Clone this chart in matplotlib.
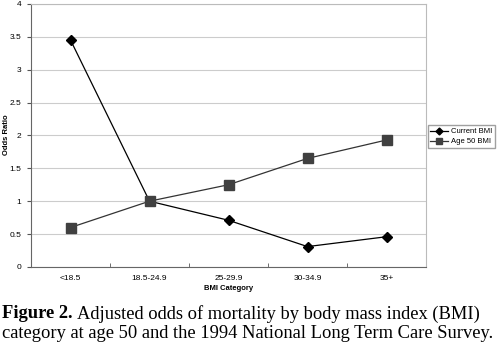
import matplotlib
matplotlib.use("Agg")
from matplotlib import pyplot as plt

categories = ["<18.5", "18.5-24.9", "25-29.9", "30-34.9", "35+"]
current_bmi = [3.45, 1.0, 0.71, 0.31, 0.46]
age50_bmi = [0.6, 1.0, 1.25, 1.65, 1.93]
y_ticks = [0, 0.5, 1, 1.5, 2, 2.5, 3, 3.5, 4]
y_labels = ["0", "0.5", "1", "1.5", "2", "2.5", "3", "3.5", "4"]

fig = plt.figure(figsize=(5, 3.63), dpi=100)
ax = fig.add_axes([0.062, 0.2645, 0.79, 0.725])

x = list(range(len(categories)))
ax.plot(x, current_bmi, color="black", lw=0.9, marker="D", ms=5, mfc="black", mec="black", label="Current BMI")
ax.plot(x, age50_bmi, color="#333333", lw=0.9, marker="s", ms=7, mfc="#404040", mec="#404040", label="Age 50 BMI")

ax.set_xlim(-0.5, 4.5)
ax.set_ylim(0, 4)
ax.set_yticks(y_ticks)
ax.set_yticklabels(y_labels, fontsize=6, family="Liberation Sans")
ax.set_xticks(x)
ax.set_xticklabels(categories, fontsize=6, family="Liberation Sans")
ax.set_xticks([-0.5, 0.5, 1.5, 2.5, 3.5, 4.5], minor=True)
ax.tick_params(axis="x", which="major", length=0, pad=6)
ax.tick_params(axis="x", which="minor", length=3, color="#555555", direction="in")
ax.tick_params(axis="y", length=3, color="#555555", direction="out", pad=4)
ax.grid(axis="y", color="#cccccc", lw=0.8)
ax.set_axisbelow(True)
for s in ["top", "right"]:
    ax.spines[s].set_color("#bbbbbb")
for s in ["left", "bottom"]:
    ax.spines[s].set_color("#666666")

ax.set_xlabel("BMI Category", fontsize=5.5, fontweight="bold", family="Liberation Sans", labelpad=2)
fig.text(0.014, 0.63, "Odds Ratio", fontsize=5.5, fontweight="bold", family="Liberation Sans",
         rotation=90, ha="center", va="center")

fig.legend(loc="upper left", bbox_to_anchor=(0.848, 0.665), fontsize=5.5, frameon=True,
           fancybox=False, edgecolor="#888888", handlelength=2.3, borderpad=0.35,
           labelspacing=0.35, handletextpad=0.4, markerscale=0.7, prop={"family": "Liberation Sans", "size": 5.5})

# caption below the chart
t1 = fig.text(0.004, 0.136, "Figure 2.", fontsize=13.3, fontweight="bold", family="Liberation Serif", va="center")
ax.annotate("Adjusted odds of mortality by body mass index (BMI)", xy=(1, 0.5), xycoords=t1,
            xytext=(3, 0), textcoords="offset points", fontsize=13.3, family="Liberation Serif",
            va="center", annotation_clip=False)
fig.text(0.004, 0.08, "category at age 50 and the 1994 National Long Term Care Survey.", fontsize=13.3,
         family="Liberation Serif", va="center")

fig.savefig("out.png", dpi=100)
